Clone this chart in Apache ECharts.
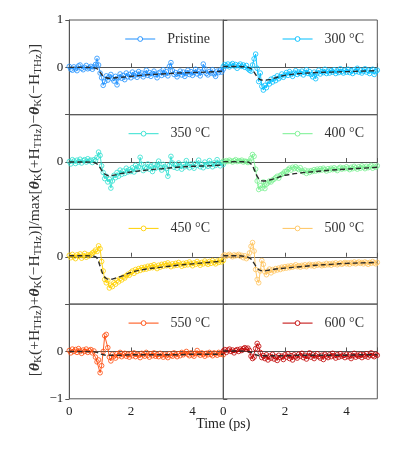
<!DOCTYPE html>
<html><head><meta charset="utf-8">
<script src="https://cdn.jsdelivr.net/npm/echarts@6/dist/echarts.min.js"></script>
<style>html,body{margin:0;padding:0;background:#fff}#c{width:399px;height:460px}</style>
</head><body><div id="c"></div>
<script>
// time samples (ps)
const T = [0,0.05,0.1,0.15,0.2,0.25,0.3,0.35,0.4,0.45,
0.5,0.55,0.6,0.65,0.7,0.75,0.8,0.85,0.9,0.95,
1,1.05,1.1,1.15,1.2,1.25,1.3,1.35,1.4,1.45,
1.5,1.55,1.6,1.65,1.7,1.75,1.8,1.85,1.9,1.95,
2,2.05,2.1,2.15,2.2,2.25,2.3,2.35,2.4,2.45,
2.5,2.55,2.6,2.65,2.7,2.75,2.8,2.85,2.9,2.95,
3,3.05,3.1,3.15,3.2,3.25,3.3,3.35,3.4,3.45,
3.5,3.55,3.6,3.65,3.7,3.75,3.8,3.85,3.9,3.95,
4,4.05,4.1,4.15,4.2,4.25,4.3,4.35,4.4,4.45,
4.5,4.55,4.6,4.65,4.7,4.75,4.8,4.85,4.9,4.95,5];

const names = ['Pristine','300 °C','350 °C','400 °C','450 °C','500 °C','550 °C','600 °C'];
const colors = ['#1E90FF','#00BFFF','#30E0D0','#78F090','#FFD000','#FFC45E','#FF4A0A','#C00000'];

const pristine = [0.02,-0.04,-0.06,0.01,-0.03,-0.07,0.03,0.05,-0.02,-0.05,0.0,0.04,-0.03,-0.01,0.02,-0.04,0.01,
0.06,0.19,0.05,-0.12,-0.22,-0.38,-0.3,-0.18,-0.27,-0.2,-0.15,-0.24,-0.29,-0.19,-0.37,-0.22,-0.14,-0.23,-0.17,-0.26,-0.12,-0.2,-0.15,-0.22,
-0.1,-0.18,-0.13,-0.21,-0.09,-0.16,-0.12,-0.2,-0.14,-0.06,
-0.17,-0.11,-0.19,-0.13,-0.08,-0.15,-0.22,-0.12,-0.1,-0.17,
-0.05,-0.14,-0.09,-0.18,0.02,0.1,-0.07,-0.15,-0.11,-0.2,
-0.13,-0.08,-0.16,-0.1,-0.19,-0.12,-0.06,-0.15,-0.09,-0.17,
-0.11,-0.04,-0.14,-0.08,-0.18,-0.1,0.07,-0.03,-0.13,-0.16,
-0.09,-0.12,-0.05,-0.14,-0.19,-0.08,-0.11,-0.06,-0.1,-0.04];

const c300 = [0.02,0.06,0.03,0.07,0.01,0.05,0.08,0.03,0.06,-0.02,0.04,0.07,0.02,0.05,0.0,0.04,-0.03,
-0.06,-0.08,0.05,0.18,0.28,-0.02,-0.3,-0.12,-0.4,-0.48,-0.38,-0.43,-0.3,-0.35,-0.25,-0.31,-0.22,-0.28,-0.18,-0.24,-0.2,-0.14,-0.21,-0.16,
-0.11,-0.17,-0.09,-0.14,-0.19,-0.12,-0.07,-0.15,-0.1,-0.13,
-0.08,-0.16,-0.11,-0.05,-0.13,-0.09,-0.15,-0.2,-0.1,-0.24,
-0.12,-0.06,-0.14,-0.09,-0.11,-0.04,-0.13,-0.08,-0.12,-0.07,
-0.1,-0.05,-0.13,-0.08,-0.11,-0.03,-0.09,-0.12,-0.06,-0.1,
-0.04,-0.11,-0.07,-0.13,-0.05,-0.09,-0.02,-0.1,-0.06,-0.12,
-0.08,-0.03,-0.1,-0.06,-0.13,-0.07,-0.04,-0.15,-0.09,-0.06];

const c350 = [0.01,-0.04,0.05,0.02,-0.03,0.04,0.0,0.06,-0.02,0.03,0.05,0.0,0.07,0.02,0.04,-0.01,0.05,0.03,
0.1,0.21,0.14,-0.08,-0.22,-0.35,-0.3,-0.42,-0.36,-0.55,-0.4,-0.28,-0.33,-0.22,-0.3,-0.17,-0.26,-0.19,-0.24,-0.13,-0.21,-0.16,-0.2,
-0.12,-0.21,-0.07,-0.16,-0.1,0.1,-0.05,-0.18,-0.11,-0.14,
-0.04,-0.15,-0.09,-0.2,-0.06,-0.13,-0.08,0.02,-0.12,-0.17,
-0.05,-0.1,-0.14,-0.3,-0.07,0.12,-0.02,-0.11,-0.06,-0.13,
-0.02,-0.09,-0.15,-0.05,-0.1,0.03,-0.08,-0.12,-0.04,-0.09,
-0.13,-0.03,-0.07,0.04,-0.1,-0.05,-0.12,0.0,-0.06,-0.09,
0.03,-0.04,-0.1,-0.02,-0.07,0.05,-0.03,-0.08,-0.01,-0.05];

const c400 = [0.02,0.0,0.03,0.01,0.04,0.02,0.0,0.03,0.05,0.01,0.03,0.02,0.04,0.0,0.02,0.01,-0.01,0.02,
0.08,0.16,0.12,-0.15,-0.4,-0.58,-0.5,-0.55,-0.42,-0.56,-0.47,-0.44,-0.4,-0.42,-0.38,-0.36,-0.33,-0.3,-0.34,-0.28,-0.26,-0.24,-0.2,
-0.2,-0.16,-0.13,-0.17,-0.11,-0.14,-0.1,-0.13,-0.16,-0.12,
-0.18,-0.21,-0.17,-0.24,-0.19,-0.22,-0.18,-0.2,-0.16,-0.19,
-0.15,-0.18,-0.14,-0.17,-0.13,-0.16,-0.19,-0.14,-0.17,-0.13,
-0.16,-0.12,-0.15,-0.18,-0.13,-0.11,-0.15,-0.12,-0.14,-0.1,
-0.13,-0.16,-0.11,-0.14,-0.09,-0.12,-0.15,-0.1,-0.13,-0.08,
-0.11,-0.14,-0.09,-0.12,-0.1,-0.07,-0.13,-0.09,-0.11,-0.08];

const c450 = [0.03,-0.02,0.05,0.0,-0.04,0.04,0.01,0.06,-0.03,0.02,0.07,-0.01,0.04,0.02,0.05,0.08,
0.1,0.14,0.11,0.23,0.17,-0.1,-0.3,-0.48,-0.55,-0.5,-0.66,-0.6,-0.63,-0.55,-0.58,-0.5,-0.53,-0.46,-0.49,-0.43,-0.45,-0.4,-0.37,-0.39,-0.33,
-0.3,-0.35,-0.27,-0.31,-0.25,-0.29,-0.23,-0.27,-0.22,-0.26,
-0.2,-0.24,-0.19,-0.23,-0.17,-0.21,-0.25,-0.18,-0.22,-0.16,
-0.2,-0.15,-0.19,-0.13,-0.17,-0.21,-0.15,-0.19,-0.14,-0.18,
-0.12,-0.16,-0.2,-0.14,-0.18,-0.13,-0.17,-0.11,-0.15,-0.19,
-0.13,-0.16,-0.1,-0.14,-0.18,-0.12,-0.15,-0.09,-0.13,-0.16,
-0.1,-0.14,-0.08,-0.12,-0.15,-0.09,-0.12,-0.07,-0.11,-0.08];

const c500 = [0.02,0.04,0.01,0.03,0.05,0.02,0.0,0.04,0.02,0.03,0.05,0.01,0.03,-0.02,0.02,-0.04,0.0,
0.08,0.22,0.3,0.12,-0.27,-0.48,-0.55,-0.3,-0.08,-0.16,-0.32,-0.38,-0.3,-0.26,-0.34,-0.27,-0.3,-0.25,-0.28,-0.24,-0.27,-0.22,-0.25,-0.21,
-0.24,-0.2,-0.23,-0.19,-0.22,-0.2,-0.17,-0.21,-0.19,-0.22,
-0.18,-0.2,-0.17,-0.21,-0.18,-0.16,-0.19,-0.17,-0.2,-0.16,
-0.18,-0.15,-0.17,-0.19,-0.16,-0.18,-0.14,-0.17,-0.15,-0.18,
-0.14,-0.16,-0.13,-0.17,-0.15,-0.13,-0.16,-0.14,-0.12,-0.15,
-0.13,-0.16,-0.12,-0.14,-0.11,-0.15,-0.13,-0.11,-0.14,-0.12,
-0.15,-0.11,-0.13,-0.16,-0.12,-0.14,-0.1,-0.13,-0.15,-0.12];

const c550 = [0.02,-0.03,0.05,0.0,0.04,-0.02,0.06,0.01,-0.04,0.03,0.0,0.05,-0.02,0.02,0.04,-0.03,0.01,
-0.12,-0.22,-0.18,-0.45,-0.3,0.0,0.33,0.36,0.08,-0.12,-0.2,-0.06,-0.1,-0.14,-0.05,-0.09,-0.02,-0.11,-0.07,-0.04,-0.1,-0.06,-0.12,-0.05,
-0.09,-0.03,-0.11,-0.06,-0.08,-0.13,-0.04,-0.07,-0.1,-0.02,
-0.08,-0.12,-0.05,-0.09,-0.03,-0.1,-0.07,-0.11,-0.04,-0.08,
-0.12,-0.06,-0.09,-0.13,-0.05,-0.08,-0.1,-0.03,-0.07,-0.11,
-0.05,-0.09,-0.02,-0.07,-0.04,0.0,-0.06,-0.09,-0.03,-0.07,
-0.1,-0.04,0.02,-0.05,-0.08,-0.03,-0.06,-0.1,-0.04,-0.07,
-0.02,-0.06,-0.09,-0.03,-0.05,-0.08,-0.02,-0.06,-0.04,-0.07];

const c600 = [0.01,0.04,-0.02,0.03,0.05,0.0,0.03,-0.03,0.02,0.04,0.0,0.05,0.02,0.06,0.08,0.05,0.07,
0.02,-0.1,-0.15,-0.12,0.06,0.17,0.11,-0.02,-0.13,-0.09,-0.15,-0.07,-0.18,-0.1,-0.14,-0.06,-0.16,-0.11,-0.19,-0.08,-0.13,-0.1,-0.17,-0.07,
-0.12,-0.05,-0.15,-0.09,-0.18,-0.07,-0.11,-0.14,-0.06,-0.1,
-0.04,-0.13,-0.08,-0.16,-0.1,-0.03,-0.12,-0.07,-0.15,-0.09,
-0.05,-0.11,-0.14,-0.08,-0.17,-0.06,-0.1,-0.13,-0.07,-0.11,
-0.04,-0.09,-0.14,-0.07,-0.12,-0.05,-0.1,-0.08,-0.13,-0.06,
-0.11,-0.07,-0.15,-0.09,-0.04,-0.12,-0.08,-0.1,-0.06,-0.13,
-0.07,-0.1,-0.05,-0.12,-0.08,-0.03,-0.09,-0.11,-0.06,-0.08];

// fit curves (dashed)
const fitT = [0,0.5,0.8,0.9,1.0,1.1,1.2,1.3,1.5,1.7,2,2.5,3,3.5,4,4.5,5];
const fitPristine = [0,0,-0.01,-0.03,-0.1,-0.19,-0.22,-0.23,-0.22,-0.21,-0.19,-0.16,-0.14,-0.12,-0.11,-0.1,-0.08];
const fit300 = [0.02,0.02,0.0,-0.03,-0.1,-0.2,-0.26,-0.27,-0.26,-0.22,-0.17,-0.13,-0.11,-0.1,-0.09,-0.08,-0.07];
const fit350 = [0,0,-0.01,-0.04,-0.12,-0.22,-0.27,-0.29,-0.27,-0.24,-0.21,-0.17,-0.14,-0.11,-0.09,-0.08,-0.06];
const fit400 = [0.01,0.01,0,-0.04,-0.15,-0.3,-0.38,-0.4,-0.38,-0.34,-0.28,-0.23,-0.2,-0.17,-0.15,-0.13,-0.11];
const fit450 = [0.02,0.02,0.01,-0.03,-0.2,-0.38,-0.46,-0.48,-0.45,-0.41,-0.33,-0.26,-0.22,-0.18,-0.15,-0.12,-0.09];
const fit500 = [0.02,0.02,-0.01,-0.05,-0.14,-0.24,-0.29,-0.3,-0.28,-0.26,-0.24,-0.21,-0.18,-0.16,-0.14,-0.13,-0.12];
const fit550 = [0,0,-0.01,-0.02,-0.05,-0.07,-0.08,-0.08,-0.08,-0.08,-0.07,-0.07,-0.07,-0.07,-0.06,-0.06,-0.06];
const fit600 = [0.01,0.01,0,-0.02,-0.05,-0.08,-0.09,-0.09,-0.09,-0.09,-0.09,-0.08,-0.08,-0.08,-0.08,-0.07,-0.07];

const xTicks = [0,2,4];

const dataSets = [pristine,c300,c350,c400,c450,c500,c550,c600];
const fitSets = [fitPristine,fit300,fit350,fit400,fit450,fit500,fit550,fit600];

const FONT = 'Liberation Serif';
const AX = '#555';
const tops = [20,114.7,209.4,304.1];
const H = 94.7;
const lefts = [69.3,223.3];
const W = 154;

const grids=[],xAxes=[],yAxes=[],series=[],legends=[];
for(let k=0;k<8;k++){
  const row=Math.floor(k/2), col=k%2;
  grids.push({left:lefts[col],top:tops[row],width:W,height:H,show:true,borderColor:AX,borderWidth:1,backgroundColor:'transparent'});
  xAxes.push({gridIndex:k,type:'value',min:0,max:5,interval:2,
    axisLine:{show:true,lineStyle:{color:AX,width:1}},
    axisTick:{show:true,inside:true,length:4,lineStyle:{color:AX,width:1}},
    axisLabel:{show:row===3,margin:6,fontFamily:FONT,fontSize:13,color:'#222',
      formatter:v=> xTicks.indexOf(v)>=0 ? String(v) : ''},
    splitLine:{show:false}});
  yAxes.push({gridIndex:k,type:'value',min:-1,max:1,interval:1,position:col===0?'left':'right',
    axisLine:{show:true,lineStyle:{color:AX,width:1}},
    axisTick:{show:true,inside:false,length:4,lineStyle:{color:AX,width:1}},
    axisLabel:{show:col===0,margin:6,fontFamily:FONT,fontSize:13,color:'#222',
      formatter:v=>{ if(v===0) return '0'; if(v===1 && row===0) return '1'; if(v===-1 && row===3) return '\u22121'; return ''; }},
    splitLine:{show:false}});
  const vals=dataSets[k];
  series.push({name:names[k],type:'line',xAxisIndex:k,yAxisIndex:k,
    data:T.map((t,i)=>[t,vals[i]]),
    symbol:'circle',symbolSize:4.6,showAllSymbol:true,clip:false,
    lineStyle:{color:colors[k],width:0.9},
    itemStyle:{color:'rgba(255,255,255,0)',borderColor:colors[k],borderWidth:0.8},
    z:2});
  const f=fitSets[k];
  series.push({name:'fit'+k,type:'line',xAxisIndex:k,yAxisIndex:k,
    data:fitT.map((t,i)=>[t,f[i]]),
    symbol:'none',smooth:0.35,clip:false,
    lineStyle:{color:'#2a2a2a',width:1.4,type:[5,3]},
    z:5,silent:true});
  legends.push({data:[names[k]],right:col===0?189:35,top:tops[row]+19-7,padding:0,
    itemWidth:30,itemHeight:6,
    itemStyle:{color:'#ffffff',borderColor:colors[k],borderWidth:0.9},
    lineStyle:{color:colors[k],width:1},
    textStyle:{fontFamily:FONT,fontSize:14,color:'#333',padding:[0,0,0,7]}});
}

const chart = echarts.init(document.getElementById('c'),null,{renderer:'canvas'});
chart.setOption({
  animation:false,
  backgroundColor:'#fff',
  grid:grids, xAxis:xAxes, yAxis:yAxes, series:series, legend:legends,
  graphic:[
    {type:'text',x:223.3,y:424,style:{text:'Time (ps)',fontFamily:FONT,fontSize:14,fill:'#222',align:'center',verticalAlign:'middle'}},
    {type:'text',x:35,y:210,rotation:Math.PI/2,
      style:{
        text:'[{b|θ}{s|K}(+H{s|THz})+{b|θ}{s|K}(\u2212H{s|THz})]/max[{b|θ}{s|K}(+H{s|THz})\u2212{b|θ}{s|K}(\u2212H{s|THz})]',
        fontFamily:FONT,fontSize:15.5,fill:'#333',align:'center',verticalAlign:'middle',lineHeight:18,
        rich:{
          b:{fontFamily:FONT,fontSize:15.5,fontWeight:'bold',fontStyle:'italic',fill:'#333',lineHeight:18},
          s:{fontFamily:FONT,fontSize:11,fill:'#333',lineHeight:11,verticalAlign:'bottom'}
        }}}
  ]
});
</script>
</body></html>
